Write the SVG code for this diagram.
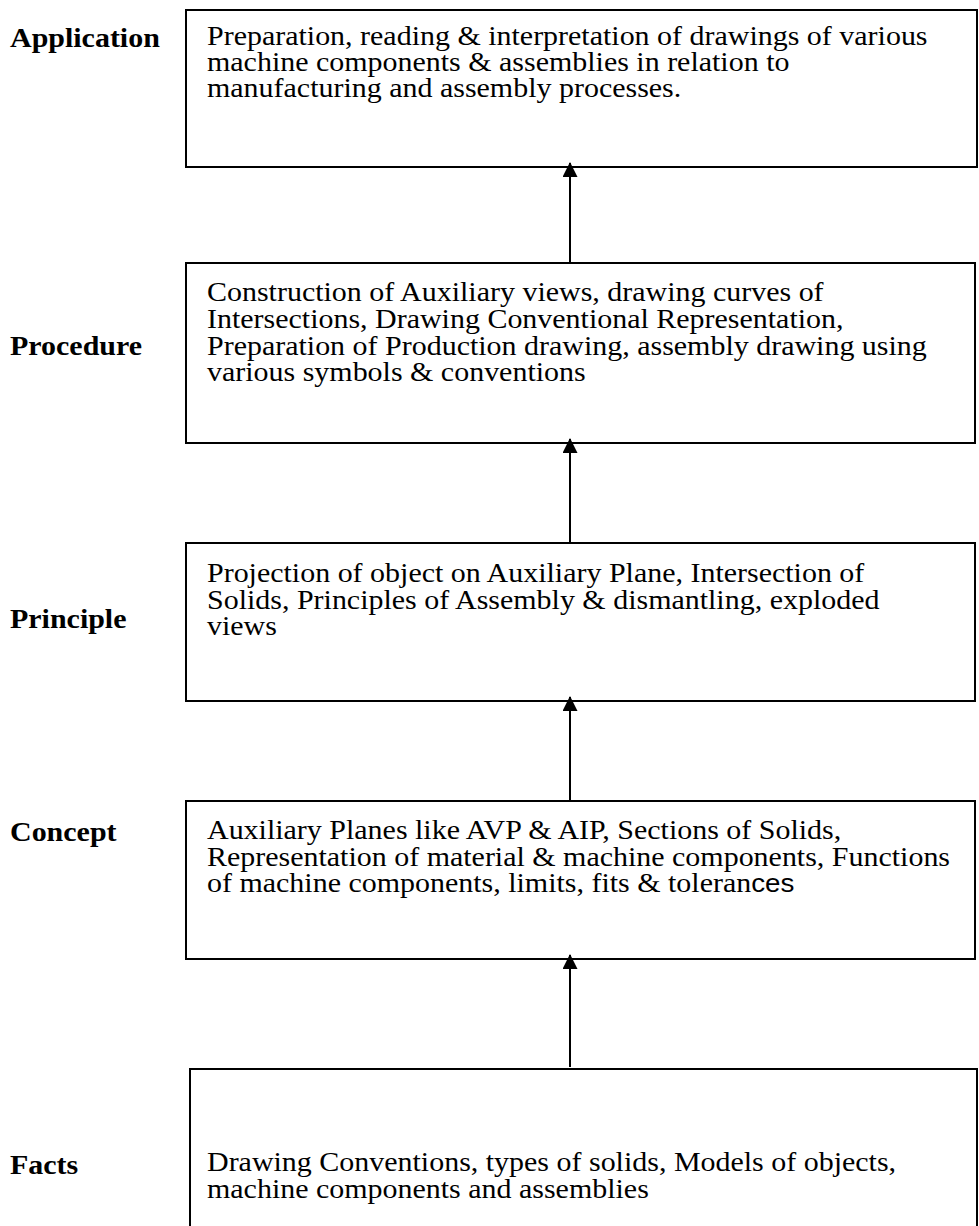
<svg xmlns="http://www.w3.org/2000/svg" width="979" height="1226" viewBox="0 0 979 1226">
  <defs>
    <style>
      .box { fill: #ffffff; stroke: #000000; stroke-width: 2; }
      .label { font-family: "Liberation Serif", "Times New Roman", serif; font-size: 27px; font-weight: bold; fill: #000000; }
      .body { font-family: "Liberation Serif", "Times New Roman", serif; font-size: 27px; fill: #000000; }
      .sans { font-family: "Liberation Sans", Arial, sans-serif; font-size: 25px; }
      .link { stroke: #000000; stroke-width: 2; fill: none; }
    </style>
    <marker id="arrow" markerUnits="userSpaceOnUse" markerWidth="15" markerHeight="15" viewBox="0 0 15 15" refX="14" refY="7.5" orient="auto">
      <path d="M0,0 L15,7.5 L0,15 z" fill="#000000"/>
    </marker>
  </defs>
  <rect width="979" height="1226" fill="#ffffff"/>

  <!-- level labels and their boxes; text is set slightly wide (x scale 1.11) -->
  <g id="application">
    <rect class="box" x="186" y="10" width="791" height="157"/>
    <g transform="translate(10,0) scale(1.11,1)">
      <text class="label" x="0" y="47">Application</text>
    </g>
    <g transform="translate(207,0) scale(1.11,1)">
      <text class="body">
        <tspan x="0" y="45">Preparation, reading &amp; interpretation of drawings of various</tspan>
        <tspan x="0" y="71">machine components &amp; assemblies in relation to</tspan>
        <tspan x="0" y="97">manufacturing and assembly processes.</tspan>
      </text>
    </g>
  </g>

  <g id="procedure">
    <rect class="box" x="186" y="263" width="789" height="180"/>
    <g transform="translate(10,0) scale(1.11,1)">
      <text class="label" x="0" y="355">Procedure</text>
    </g>
    <g transform="translate(207,0) scale(1.11,1)">
      <text class="body">
        <tspan x="0" y="301">Construction of Auxiliary views, drawing curves of</tspan>
        <tspan x="0" y="328">Intersections, Drawing Conventional Representation,</tspan>
        <tspan x="0" y="355">Preparation of Production drawing, assembly drawing using</tspan>
        <tspan x="0" y="381">various symbols &amp; conventions</tspan>
      </text>
    </g>
  </g>

  <g id="principle">
    <rect class="box" x="186" y="543" width="789" height="158"/>
    <g transform="translate(10,0) scale(1.11,1)">
      <text class="label" x="0" y="628">Principle</text>
    </g>
    <g transform="translate(207,0) scale(1.11,1)">
      <text class="body">
        <tspan x="0" y="582">Projection of object on Auxiliary Plane, Intersection of</tspan>
        <tspan x="0" y="609">Solids, Principles of Assembly &amp; dismantling, exploded</tspan>
        <tspan x="0" y="635">views</tspan>
      </text>
    </g>
  </g>

  <g id="concept">
    <rect class="box" x="186" y="801" width="789" height="158"/>
    <g transform="translate(10,0) scale(1.11,1)">
      <text class="label" x="0" y="841">Concept</text>
    </g>
    <g transform="translate(207,0) scale(1.11,1)">
      <text class="body">
        <tspan x="0" y="839">Auxiliary Planes like AVP &amp; AIP, Sections of Solids,</tspan>
        <tspan x="0" y="866">Representation of material &amp; machine components, Functions</tspan>
        <tspan x="0" y="892">of machine components, limits, fits &amp; toleran<tspan class="sans">ces</tspan></tspan>
      </text>
    </g>
  </g>

  <g id="facts">
    <rect class="box" x="190" y="1069" width="787" height="170"/>
    <g transform="translate(10,0) scale(1.11,1)">
      <text class="label" x="0" y="1174">Facts</text>
    </g>
    <g transform="translate(207,0) scale(1.11,1)">
      <text class="body">
        <tspan x="0" y="1171">Drawing Conventions, types of solids, Models of objects,</tspan>
        <tspan x="0" y="1198">machine components and assemblies</tspan>
      </text>
    </g>
  </g>

  <!-- upward arrows between levels -->
  <g id="connectors">
    <line class="link" x1="570" y1="263" x2="570" y2="163" marker-end="url(#arrow)"/>
    <line class="link" x1="570" y1="543" x2="570" y2="439" marker-end="url(#arrow)"/>
    <line class="link" x1="570" y1="801" x2="570" y2="697" marker-end="url(#arrow)"/>
    <line class="link" x1="570" y1="1067" x2="570" y2="955" marker-end="url(#arrow)"/>
  </g>
</svg>
